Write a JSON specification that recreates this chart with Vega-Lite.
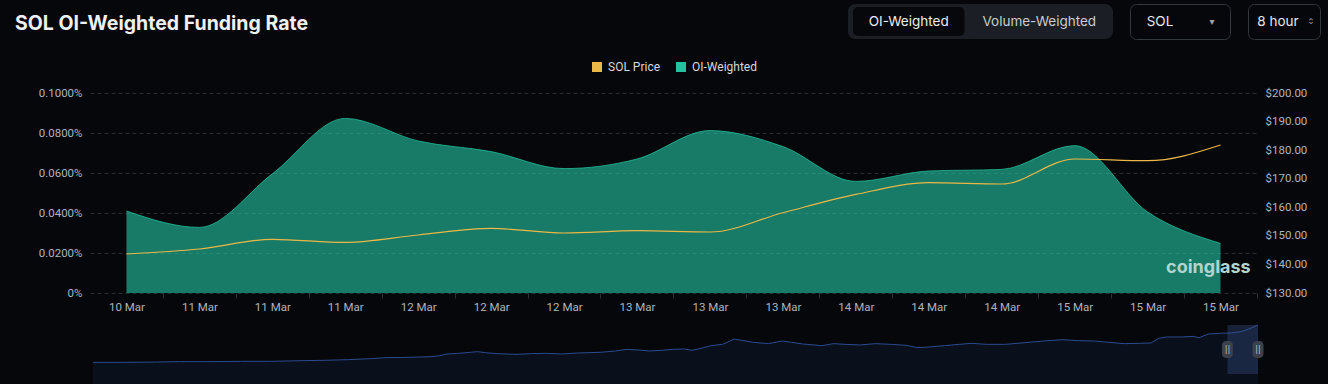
{
  "$schema": "https://vega.github.io/schema/vega-lite/v6.json",
  "background": "#05070b",
  "padding": {"left": 15, "top": 3, "right": 9, "bottom": 11},
  "spacing": 10,
  "resolve": {"scale": {"color": "independent"}, "legend": {"color": "independent"}},
  "config": {
    "view": {"stroke": null},
    "font": "Roboto",
    "axis": {"labelFont": "Roboto", "labelFontSize": 11.5, "labelColor": "#b0b4bb", "domain": false, "ticks": false, "grid": false, "title": null},
    "legend": {"layout": {"top": {"anchor": "middle"}}}
  },
  "vconcat": [
    {
      "hconcat": [
        {
          "width": 742,
          "height": 35,
          "title": {"text": "SOL OI-Weighted Funding Rate", "anchor": "start", "frame": "group", "orient": "top", "offset": -45, "dx": -75, "baseline": "alphabetic", "font": "Inter", "fontSize": 19.5, "fontWeight": 700, "color": "#eef0f2"},
          "data": {"values": [{"note": ""}]},
          "mark": {"type": "text"},
          "encoding": {"text": {"field": "note"}}
        },
        {
          "width": 265,
          "height": 35,
          "view": {"fill": "#1b1e24", "stroke": null, "cornerRadius": 8},
          "data": {"values": [{"option": "OI-Weighted", "selected": true}, {"option": "Volume-Weighted", "selected": false}]},
          "encoding": {
            "x": {"field": "option", "type": "nominal", "scale": {"domain": ["OI-Weighted", "Volume-Weighted"], "range": [2, 250], "paddingInner": 0.1, "paddingOuter": 0}, "axis": null}
          },
          "layer": [
            {"transform": [{"filter": "datum.selected"}], "mark": {"type": "rect", "fill": "#06080b", "stroke": "#1b1e24", "strokeWidth": 6, "cornerRadius": 8, "clip": true}},
            {"mark": {"type": "text", "font": "Inter", "fontSize": 13.5, "baseline": "middle"},
             "encoding": {"text": {"field": "option"}, "color": {"condition": {"test": "datum.selected", "value": "#eceef0"}, "value": "#c8cbd0"}}}
          ]
        },
        {
          "width": 100,
          "height": 35,
          "view": {"fill": null, "stroke": "#33373e", "strokeWidth": 1, "cornerRadius": 6},
          "data": {"values": [{"slot": "label", "text": "SOL"}, {"slot": "icon", "text": "▾"}]},
          "encoding": {
            "x": {"field": "slot", "type": "nominal", "scale": {"type": "point", "domain": ["label", "icon"], "range": [30, 82], "padding": 0}, "axis": null},
            "text": {"field": "text"}
          },
          "layer": [
            {"transform": [{"filter": "datum.slot === 'label'"}], "mark": {"type": "text", "font": "Inter", "fontSize": 13.5, "baseline": "middle", "color": "#e6e8eb"}},
            {"transform": [{"filter": "datum.slot === 'icon'"}], "mark": {"type": "text", "font": "DejaVu Sans", "fontSize": 10, "baseline": "middle", "color": "#9ca0a8"}}
          ]
        },
        {
          "width": 72,
          "height": 35,
          "view": {"fill": null, "stroke": "#33373e", "strokeWidth": 1, "cornerRadius": 6},
          "data": {"values": [{"slot": "label", "text": "8 hour", "dir": "none"}, {"slot": "icon", "text": "⌃", "dir": "up"}, {"slot": "icon", "text": "⌄", "dir": "down"}]},
          "encoding": {
            "x": {"field": "slot", "type": "nominal", "scale": {"type": "point", "domain": ["label", "icon"], "range": [30, 63], "padding": 0}, "axis": null},
            "text": {"field": "text"}
          },
          "layer": [
            {"transform": [{"filter": "datum.slot === 'label'"}], "mark": {"type": "text", "font": "Inter", "fontSize": 13.5, "baseline": "middle", "color": "#e6e8eb"}},
            {"transform": [{"filter": "datum.dir === 'up'"}], "mark": {"type": "text", "font": "DejaVu Sans", "fontSize": 9, "baseline": "bottom", "dy": 5, "color": "#9ca0a8"}},
            {"transform": [{"filter": "datum.dir === 'down'"}], "mark": {"type": "text", "font": "DejaVu Sans", "fontSize": 9, "baseline": "top", "dy": -5, "color": "#9ca0a8"}}
          ]
        }
      ],
      "spacing": 16
    },
    {
      "width": 1167,
      "height": 200,
      "data": {"values": [
        {"time": "2024-03-10T16:00:00Z", "oi": 0.0410, "price": 143.65},
        {"time": "2024-03-11T00:00:00Z", "oi": 0.0328, "price": 145.4},
        {"time": "2024-03-11T08:00:00Z", "oi": 0.0596, "price": 148.8},
        {"time": "2024-03-11T16:00:00Z", "oi": 0.0873, "price": 147.7},
        {"time": "2024-03-12T00:00:00Z", "oi": 0.0760, "price": 150.3},
        {"time": "2024-03-12T08:00:00Z", "oi": 0.0707, "price": 152.6},
        {"time": "2024-03-12T16:00:00Z", "oi": 0.0622, "price": 151.0},
        {"time": "2024-03-13T00:00:00Z", "oi": 0.0670, "price": 151.8},
        {"time": "2024-03-13T08:00:00Z", "oi": 0.0812, "price": 151.35},
        {"time": "2024-03-13T16:00:00Z", "oi": 0.0732, "price": 158.1},
        {"time": "2024-03-14T00:00:00Z", "oi": 0.0558, "price": 164.5},
        {"time": "2024-03-14T08:00:00Z", "oi": 0.0610, "price": 168.6},
        {"time": "2024-03-14T16:00:00Z", "oi": 0.0618, "price": 168.15},
        {"time": "2024-03-15T00:00:00Z", "oi": 0.0737, "price": 176.9},
        {"time": "2024-03-15T08:00:00Z", "oi": 0.0405, "price": 176.3},
        {"time": "2024-03-15T16:00:00Z", "oi": 0.0248, "price": 181.8}
      ]},
      "layer": [
        {
          "mark": {"type": "area", "interpolate": "monotone", "fillOpacity": 0.62, "line": {"strokeWidth": 1, "strokeOpacity": 0.75}},
          "encoding": {
            "x": {"field": "time", "type": "temporal",
                  "scale": {"type": "utc", "domain": [{"year": 2024, "month": 3, "date": 10, "hours": 12, "utc": true}, {"year": 2024, "month": 3, "date": 15, "hours": 20, "utc": true}]},
                  "axis": {"orient": "bottom", "format": "%d %b", "labelPadding": 3, "ticks": true, "tickSize": 5, "tickColor": "#2a2e35", "tickOffset": 36.4, "labelOffset": -36.4, "labelFlush": false, "labelOverlap": false,
                           "values": [
                             {"year": 2024, "month": 3, "date": 10, "hours": 16, "utc": true},
                             {"year": 2024, "month": 3, "date": 11, "hours": 0, "utc": true},
                             {"year": 2024, "month": 3, "date": 11, "hours": 8, "utc": true},
                             {"year": 2024, "month": 3, "date": 11, "hours": 16, "utc": true},
                             {"year": 2024, "month": 3, "date": 12, "hours": 0, "utc": true},
                             {"year": 2024, "month": 3, "date": 12, "hours": 8, "utc": true},
                             {"year": 2024, "month": 3, "date": 12, "hours": 16, "utc": true},
                             {"year": 2024, "month": 3, "date": 13, "hours": 0, "utc": true},
                             {"year": 2024, "month": 3, "date": 13, "hours": 8, "utc": true},
                             {"year": 2024, "month": 3, "date": 13, "hours": 16, "utc": true},
                             {"year": 2024, "month": 3, "date": 14, "hours": 0, "utc": true},
                             {"year": 2024, "month": 3, "date": 14, "hours": 8, "utc": true},
                             {"year": 2024, "month": 3, "date": 14, "hours": 16, "utc": true},
                             {"year": 2024, "month": 3, "date": 15, "hours": 0, "utc": true},
                             {"year": 2024, "month": 3, "date": 15, "hours": 8, "utc": true},
                             {"year": 2024, "month": 3, "date": 15, "hours": 16, "utc": true}
                           ]}},
            "y": {"field": "oi", "type": "quantitative", "scale": {"domain": [0, 0.1], "nice": false},
                  "axis": {"orient": "left", "values": [0, 0.02, 0.04, 0.06, 0.08, 0.1], "labelExpr": "datum.value === 0 ? '0%' : format(datum.value, '.4f') + '%'", "grid": true, "gridColor": "#262a31", "gridDash": [4, 3], "labelPadding": 8, "minExtent": 75, "maxExtent": 75}},
            "color": {"datum": "OI-Weighted", "type": "nominal",
                      "scale": {"domain": ["SOL Price", "OI-Weighted"], "range": ["#ebb847", "#24c3a0"]},
                      "legend": {"orient": "top", "direction": "horizontal", "title": null, "symbolType": "square", "symbolSize": 100, "symbolStrokeWidth": 0, "labelFont": "Roboto", "labelFontSize": 12, "labelColor": "#d5d8dc", "columnPadding": 14, "labelOffset": 5, "padding": 11, "offset": 9}}
          }
        },
        {
          "mark": {"type": "line", "interpolate": "monotone", "color": "#ebb847", "strokeWidth": 1.2},
          "encoding": {
            "x": {"field": "time", "type": "temporal"},
            "y": {"field": "price", "type": "quantitative", "scale": {"domain": [130, 200], "nice": false, "zero": false},
                  "axis": {"orient": "right", "values": [130, 140, 150, 160, 170, 180, 190, 200], "format": "$.2f", "labelPadding": 8}}
          }
        },
        {
          "data": {"values": [{"brand": "coinglass"}]},
          "mark": {"type": "text", "font": "Inter", "fontSize": 18, "fontWeight": 700, "color": "#b2d4d0", "baseline": "middle"},
          "encoding": {
            "x": {"datum": {"year": 2024, "month": 3, "date": 15, "hours": 14, "minutes": 40, "utc": true}, "type": "temporal"},
            "y": {"datum": 0.0125, "type": "quantitative", "scale": {"domain": [0, 0.1]}, "axis": null},
            "text": {"field": "brand"}
          }
        }
      ],
      "resolve": {"scale": {"y": "independent"}}
    },
    {
      "width": 1168,
      "height": 49,
      "data": {"values": [
        {"idx": 17, "price": 111.9}, {"idx": 60, "price": 111.9}, {"idx": 100, "price": 112.5}, {"idx": 130, "price": 113.2},
        {"idx": 170, "price": 113.2}, {"idx": 210, "price": 113.8}, {"idx": 250, "price": 113.8}, {"idx": 290, "price": 115.0},
        {"idx": 320, "price": 115.7}, {"idx": 350, "price": 116.9}, {"idx": 380, "price": 118.8}, {"idx": 400, "price": 120.7},
        {"idx": 430, "price": 121.3}, {"idx": 460, "price": 122.6}, {"idx": 470, "price": 124.4}, {"idx": 480, "price": 127.6},
        {"idx": 495, "price": 128.8}, {"idx": 510, "price": 130.7}, {"idx": 520, "price": 131.9}, {"idx": 530, "price": 130.1},
        {"idx": 545, "price": 128.2}, {"idx": 570, "price": 126.9}, {"idx": 590, "price": 128.2}, {"idx": 610, "price": 128.8},
        {"idx": 630, "price": 127.6}, {"idx": 650, "price": 129.4}, {"idx": 680, "price": 130.7}, {"idx": 700, "price": 133.2},
        {"idx": 715, "price": 136.3}, {"idx": 730, "price": 135.1}, {"idx": 745, "price": 133.2}, {"idx": 760, "price": 134.4},
        {"idx": 775, "price": 136.3}, {"idx": 790, "price": 137.0}, {"idx": 800, "price": 134.4}, {"idx": 812, "price": 138.2},
        {"idx": 825, "price": 143.2}, {"idx": 840, "price": 145.7}, {"idx": 848, "price": 150.7}, {"idx": 855, "price": 155.7},
        {"idx": 865, "price": 153.2}, {"idx": 880, "price": 149.5}, {"idx": 900, "price": 147.0}, {"idx": 918, "price": 152.0},
        {"idx": 930, "price": 149.5}, {"idx": 945, "price": 146.3}, {"idx": 970, "price": 143.2}, {"idx": 985, "price": 147.0},
        {"idx": 1000, "price": 145.7}, {"idx": 1020, "price": 144.5}, {"idx": 1040, "price": 147.0}, {"idx": 1060, "price": 145.7},
        {"idx": 1080, "price": 143.8}, {"idx": 1095, "price": 139.5}, {"idx": 1110, "price": 140.7}, {"idx": 1130, "price": 143.2},
        {"idx": 1150, "price": 145.7}, {"idx": 1165, "price": 147.6}, {"idx": 1185, "price": 145.7}, {"idx": 1210, "price": 145.7},
        {"idx": 1235, "price": 148.8}, {"idx": 1260, "price": 152.0}, {"idx": 1285, "price": 154.5}, {"idx": 1305, "price": 152.6},
        {"idx": 1325, "price": 152.0}, {"idx": 1345, "price": 149.5}, {"idx": 1365, "price": 147.0}, {"idx": 1385, "price": 147.6},
        {"idx": 1400, "price": 148.2}, {"idx": 1410, "price": 157.0}, {"idx": 1420, "price": 159.5}, {"idx": 1440, "price": 159.5},
        {"idx": 1455, "price": 160.7}, {"idx": 1463, "price": 158.2}, {"idx": 1475, "price": 165.1}, {"idx": 1490, "price": 166.4},
        {"idx": 1505, "price": 167.0}, {"idx": 1518, "price": 169.5}, {"idx": 1528, "price": 174.5}, {"idx": 1540, "price": 182.0}
      ]},
      "layer": [
        {
          "mark": {"type": "area", "color": "#0b1222", "line": {"color": "#2b4a8f", "strokeWidth": 1}},
          "encoding": {
            "x": {"field": "idx", "type": "quantitative", "scale": {"domain": [17, 1540], "nice": false, "zero": false, "range": [3, 1168]}, "axis": null},
            "y": {"field": "price", "type": "quantitative", "scale": {"domain": [90, 182], "nice": false, "zero": false}, "axis": null}
          }
        },
        {
          "data": {"values": [{"from": 1500, "to": 1540}]},
          "mark": {"type": "rect", "color": "#3a5590", "opacity": 0.35},
          "encoding": {
            "x": {"field": "from", "type": "quantitative"},
            "x2": {"field": "to"}
          }
        },
        {
          "data": {"values": [{"edge": 1500}, {"edge": 1540}]},
          "mark": {"type": "tick", "color": "#3b404a", "size": 17, "thickness": 11, "cornerRadius": 4, "opacity": 1},
          "encoding": {"x": {"field": "edge", "type": "quantitative"}}
        },
        {
          "data": {"values": [{"edge": 1500, "grip": "||"}, {"edge": 1540, "grip": "||"}]},
          "mark": {"type": "text", "font": "DejaVu Sans", "fontSize": 8, "color": "#c0c4cc", "baseline": "middle"},
          "encoding": {"x": {"field": "edge", "type": "quantitative"}, "text": {"field": "grip"}}
        }
      ]
    }
  ]
}
